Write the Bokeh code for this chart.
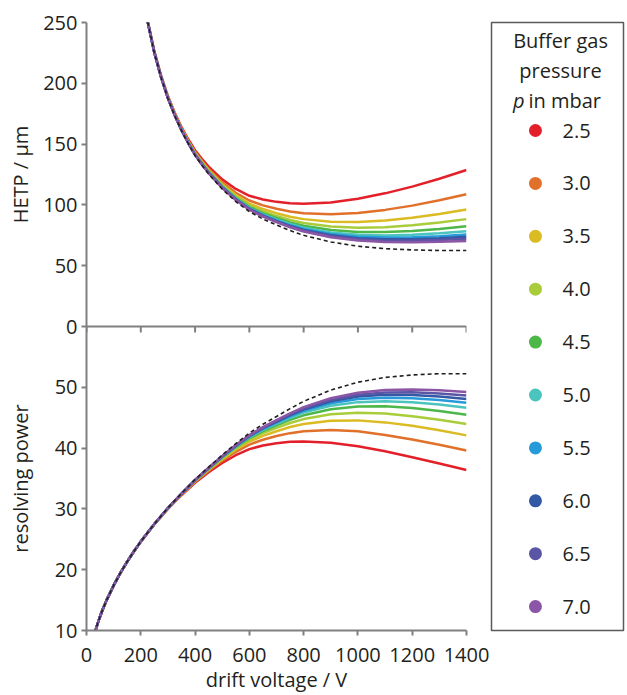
from bokeh.plotting import figure
from bokeh.layouts import row
from bokeh.models import Range1d, FixedTicker, Span
from bokeh.embed import file_html
from bokeh.resources import INLINE
from bokeh.core.properties import value
import math

# ---------------- data ----------------
pressures = ["2.5", "3.0", "3.5", "4.0", "4.5", "5.0", "5.5", "6.0", "6.5", "7.0"]
colors = ["#e3202a", "#e0702a", "#dbbb22", "#a9cc3b", "#4db749", "#4cc4be",
          "#279bd9", "#3358a6", "#5a55a5", "#8b56a5"]

x_ticks = [0, 200, 400, 600, 800, 1000, 1200, 1400]
hetp_ticks = [0, 50, 100, 150, 200, 250]
res_ticks = [10, 20, 30, 40, 50]

# upper panel: HETP / um vs drift voltage / V
v_hetp = [220, 250, 275, 300, 325, 350, 375, 400, 425, 450, 500, 550, 600, 650, 700, 750,
          800, 900, 1000, 1100, 1200, 1300, 1400]
hetp_limit = [256, 225, 204.6, 187.5, 173.3, 161, 150.3, 140.5, 132.7, 125.5, 113, 102.8, 94.5,
              88.4, 83.5, 78.9, 75, 69.5, 66, 64, 63, 62.5, 62.5]
hetp_2_5 = [257, 226.2, 206.2, 189.5, 175.8, 164, 154.0, 145, 137.9, 131.5, 121, 113.1, 107.5,
            104.4, 102.5, 101.3, 101, 102, 105, 109.5, 115, 121.5, 128.7]
hetp_3_0 = [256.7, 225.8, 205.7, 188.9, 175.1, 163.1, 152.9, 143.7, 136.3, 129.7, 118.6, 110.0,
            103.6, 99.6, 96.8, 94.6, 93.2, 92.3, 93.3, 95.9, 99.4, 103.8, 108.8]
hetp_3_5 = [256.5, 225.6, 205.4, 188.5, 174.6, 162.5, 152.2, 142.8, 135.4, 128.6, 117.1, 108.1,
            101.1, 96.6, 93.2, 90.3, 88.3, 86.1, 85.9, 87.2, 89.5, 92.6, 96.3]
hetp_4_0 = [256.4, 225.5, 205.2, 188.3, 174.3, 162.2, 151.7, 142.3, 134.7, 127.8, 116.1, 106.8,
            99.6, 94.6, 90.9, 87.6, 85.1, 82.2, 81.2, 81.7, 83.3, 85.5, 88.3]
hetp_4_5 = [256.3, 225.4, 205.1, 188.1, 174.1, 161.9, 151.4, 141.9, 134.3, 127.3, 115.4, 105.9,
            98.4, 93.2, 89.2, 85.6, 82.8, 79.3, 77.7, 77.7, 78.6, 80.2, 82.4]
hetp_5_0 = [256.2, 225.3, 205.0, 188.0, 173.9, 161.7, 151.2, 141.6, 133.9, 126.9, 114.9, 105.3,
            97.6, 92.2, 88.1, 84.3, 81.2, 77.3, 75.4, 74.9, 75.5, 76.7, 78.4]
hetp_5_5 = [256.2, 225.2, 204.9, 187.9, 173.8, 161.6, 151.0, 141.4, 133.7, 126.7, 114.6, 104.9,
            97.1, 91.6, 87.3, 83.4, 80.2, 76.0, 73.8, 73.1, 73.4, 74.3, 75.7]
hetp_6_0 = [256.2, 225.2, 204.9, 187.8, 173.7, 161.5, 150.9, 141.3, 133.6, 126.5, 114.4, 104.6,
            96.7, 91.1, 86.7, 82.7, 79.4, 75.0, 72.6, 71.7, 71.8, 72.5, 73.8]
hetp_6_5 = [256.1, 225.2, 204.8, 187.8, 173.7, 161.4, 150.8, 141.2, 133.5, 126.4, 114.2, 104.3,
            96.4, 90.7, 86.3, 82.1, 78.8, 74.2, 71.7, 70.6, 70.5, 71.1, 72.1]
hetp_7_0 = [256.1, 225.1, 204.8, 187.7, 173.6, 161.4, 150.7, 141.0, 133.3, 126.2, 114.0, 104.0,
            96.1, 90.3, 85.8, 81.6, 78.1, 73.4, 70.7, 69.5, 69.2, 69.6, 70.4]

# lower panel: resolving power vs drift voltage / V
v_res = [30, 40, 50, 60, 75, 100, 125, 150, 175, 200, 250, 300, 350, 400, 450, 500, 550, 600,
         650, 700, 750, 800, 900, 1000, 1100, 1200, 1300, 1400]
res_low = [9.54, 11.01, 12.31, 13.49, 15.08, 17.41, 19.47, 21.32, 23.03, 24.62]
res_limit = res_low + [27.53, 30.16, 32.55, 34.84, 36.87, 38.85, 40.73, 42.48, 43.93, 45.20,
                       46.49, 47.69, 49.54, 50.84, 51.63, 52.03, 52.24, 52.24]
res_2_5 = res_low + [27.46, 30.00, 32.25, 34.30, 36.02, 37.55, 38.83, 39.83, 40.42, 40.79,
                     41.03, 41.09, 40.89, 40.30, 39.47, 38.51, 37.47, 36.40]
res_3_0 = res_low + [27.48, 30.05, 32.34, 34.45, 36.26, 37.92, 39.38, 40.58, 41.38, 41.98,
                     42.46, 42.78, 42.99, 42.76, 42.17, 41.42, 40.54, 39.59]
res_3_5 = res_low + [27.50, 30.08, 32.40, 34.56, 36.42, 38.17, 39.72, 41.07, 42.02, 42.78,
                     43.46, 43.95, 44.51, 44.56, 44.23, 43.66, 42.92, 42.09]
res_4_0 = res_low + [27.50, 30.10, 32.43, 34.62, 36.53, 38.33, 39.96, 41.38, 42.46, 43.32,
                     44.13, 44.77, 45.55, 45.83, 45.69, 45.25, 44.66, 43.95]
res_4_5 = res_low + [27.51, 30.11, 32.46, 34.67, 36.60, 38.45, 40.13, 41.63, 42.78, 43.73,
                     44.64, 45.39, 46.39, 46.85, 46.87, 46.58, 46.12, 45.50]
res_5_0 = res_low + [27.51, 30.12, 32.48, 34.71, 36.66, 38.53, 40.25, 41.81, 43.01, 44.00,
                     44.98, 45.83, 46.97, 47.56, 47.72, 47.53, 47.16, 46.64]
res_5_5 = res_low + [27.52, 30.13, 32.49, 34.73, 36.69, 38.58, 40.32, 41.91, 43.15, 44.20,
                     45.22, 46.12, 47.37, 48.07, 48.30, 48.21, 47.91, 47.47]
res_6_0 = res_low + [27.52, 30.14, 32.50, 34.74, 36.72, 38.61, 40.38, 42.00, 43.27, 44.36,
                     45.41, 46.35, 47.69, 48.47, 48.77, 48.74, 48.50, 48.07]
res_6_5 = res_low + [27.52, 30.14, 32.51, 34.76, 36.73, 38.65, 40.44, 42.06, 43.37, 44.46,
                     45.58, 46.53, 47.95, 48.77, 49.15, 49.19, 48.98, 48.64]
res_7_0 = res_low + [27.53, 30.15, 32.51, 34.78, 36.76, 38.68, 40.50, 42.13, 43.46, 44.59,
                     45.72, 46.73, 48.21, 49.12, 49.54, 49.65, 49.50, 49.22]

hetp_series = [hetp_2_5, hetp_3_0, hetp_3_5, hetp_4_0, hetp_4_5,
               hetp_5_0, hetp_5_5, hetp_6_0, hetp_6_5, hetp_7_0]
res_series = [res_2_5, res_3_0, res_3_5, res_4_0, res_4_5,
              res_5_0, res_5_5, res_6_0, res_6_5, res_7_0]

# ---------------- styling ----------------
FONT = "Open Sans"
TXT = "#231f20"
AXC = "#808080"
FS = "20px"

# stacked panels share one frame: lower half = resolving power 10..60,
# upper half = HETP 0..250 (own range)
RES_LO, RES_HI = 10, 60
H_LO, H_HI = 0, 250
MAIN_TOP = RES_HI + (RES_HI - RES_LO)          # 110
main_range = Range1d(RES_LO, MAIN_TOP)
hetp_range = Range1d(H_LO - (H_HI - H_LO), H_HI)  # -250..250 -> 0 sits on the divider


def hetp_pos(h):
    return int(round(RES_HI + (h - H_LO) * (RES_HI - RES_LO) / (H_HI - H_LO)))


BT, BB = 22, 65          # borders top / bottom
H_TOTAL = 695

main = figure(width=450, height=H_TOTAL, x_range=Range1d(0, 1400), y_range=main_range,
              output_backend="svg", toolbar_location=None,
              min_border_left=46, min_border_right=24, min_border_top=BT, min_border_bottom=BB)
main.extra_y_ranges = {"hetp": hetp_range}
main.outline_line_color = None
main.grid.visible = False


def style_axis(ax):
    ax.axis_line_color = AXC
    ax.axis_line_width = 2
    ax.major_tick_line_color = AXC
    ax.major_tick_line_width = 2
    ax.minor_tick_line_color = None
    ax.major_tick_in = 0
    ax.major_tick_out = 5
    ax.major_label_text_font = FONT
    ax.major_label_text_font_size = FS
    ax.major_label_text_color = TXT
    ax.axis_label_text_font = FONT
    ax.axis_label_text_font_size = FS
    ax.axis_label_text_font_style = "normal"
    ax.axis_label_text_color = TXT


ytick_pos = res_ticks + [hetp_pos(h) for h in hetp_ticks]
main.yaxis.ticker = FixedTicker(ticks=ytick_pos)
main.yaxis.major_label_overrides = {hetp_pos(h): str(h) for h in hetp_ticks}
style_axis(main.yaxis[0])
main.yaxis.major_label_standoff = 4

main.xaxis.ticker = FixedTicker(ticks=x_ticks)
style_axis(main.xaxis[0])
main.xaxis.major_label_standoff = 12
main.xaxis.axis_label = "drift voltage / V"
main.xaxis.axis_label_standoff = 1

# divider line between the panels with downward ticks
main.add_layout(Span(location=RES_HI, dimension="width", line_color=AXC, line_width=2))
tick_len = 6 * (MAIN_TOP - RES_LO) / (H_TOTAL - BT - BB)
main.segment(x0=x_ticks, y0=[RES_HI] * len(x_ticks), x1=x_ticks,
             y1=[RES_HI - tick_len] * len(x_ticks), line_color=AXC, line_width=2)

for ys, c in zip(hetp_series, colors):
    main.line(v_hetp, ys, line_color=c, line_width=2.5, y_range_name="hetp")
main.line(v_hetp, hetp_limit, line_color="#231f20", line_width=1.6, line_dash="4 3",
          y_range_name="hetp")

for ys, c in zip(res_series, colors):
    main.line(v_res, ys, line_color=c, line_width=2.5)
main.line(v_res, res_limit, line_color="#231f20", line_width=1.6, line_dash="4 3")

# ---- y-axis titles (left strip, same vertical scale as main frame) ----
lab = figure(width=40, height=H_TOTAL, x_range=Range1d(0, 1), y_range=Range1d(RES_LO, MAIN_TOP),
             output_backend="svg", toolbar_location=None,
             x_axis_location=None, y_axis_location=None,
             min_border_left=0, min_border_right=0, min_border_top=BT, min_border_bottom=BB)
lab.outline_line_color = None
lab.grid.visible = False
lab.text(x=[0.5, 0.5], y=[hetp_pos(125), (RES_LO + RES_HI) / 2],
         text=["HETP / µm", "resolving power"], angle=math.pi / 2,
         text_align="center", text_baseline="middle",
         text_font=value(FONT), text_font_size=value(FS), text_color=TXT)

# ---- legend panel (same borders so the row keeps it full height) ----
leg = figure(width=135, height=H_TOTAL, x_range=Range1d(0, 1), y_range=Range1d(9.452, -2.042),
             output_backend="svg", toolbar_location=None,
             x_axis_location=None, y_axis_location=None,
             min_border_left=1, min_border_right=2, min_border_top=BT, min_border_bottom=BB)
leg.grid.visible = False
leg.outline_line_color = "#5a5a5a"
leg.outline_line_width = 1.5

idx = list(range(len(pressures)))
leg.scatter(x=[0.333] * len(idx), y=idx, size=13, fill_color=colors, line_color=None)
leg.text(x=[0.538] * len(idx), y=idx, text=pressures, text_baseline="middle",
         text_font=value(FONT), text_font_size=value(FS), text_color=TXT)
leg.text(x=[0.523, 0.523], y=[-1.70, -1.13], text=["Buffer gas", "pressure"],
         text_align="center", text_baseline="middle",
         text_font=value(FONT), text_font_size=value(FS), text_color=TXT)
leg.text(x=[0.25], y=[-0.567], text=["p"], text_align="right", text_baseline="middle",
         text_font=value(FONT), text_font_size=value(FS), text_font_style="italic",
         text_color=TXT)
leg.text(x=[0.28], y=[-0.567], text=["in mbar"], text_align="left", text_baseline="middle",
         text_font=value(FONT), text_font_size=value(FS), text_color=TXT)

layout = row(lab, main, leg)
open("out.html", "w").write(file_html(layout, INLINE))
